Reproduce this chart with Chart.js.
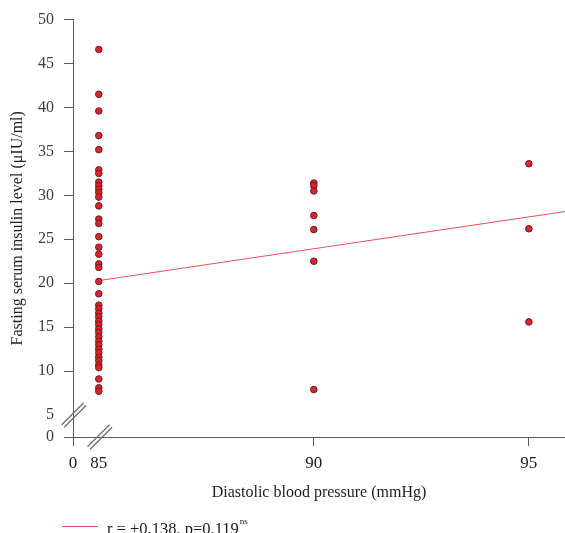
<!DOCTYPE html>
<html>
<head>
<meta charset="utf-8">
<script src="https://cdn.jsdelivr.net/npm/chart.js"></script>
<style>
  body { margin: 0; background: #fff; }
  #wrap { position: relative; width: 565px; height: 533px; overflow: hidden; }
</style>
</head>
<body>
<div id="wrap"><canvas id="graf" width="565" height="533"></canvas></div>
<script>
// Insulin values, one array per blood pressure group
const dbp85 = [46.6, 41.5, 39.6, 36.8, 35.2, 32.9, 32.5, 31.5, 31.1, 30.7, 30.3, 29.8, 28.8,
  27.3, 26.8, 25.3, 24.1, 23.3, 22.2, 21.8, 20.2, 18.8, 17.5, 17.1, 16.6, 16.2, 15.7, 15.3,
  14.8, 14.4, 13.9, 13.4, 13.0, 12.5, 12.1, 11.6, 11.2, 10.7, 10.4, 9.1, 8.1, 7.7];
const dbp90 = [31.4, 31.1, 30.5, 27.7, 26.1, 22.5, 7.9];
const dbp95 = [33.6, 26.2, 15.6];

// Regression line end points
const lineX = [85, 95.9];
const lineY = [20.3, 28.2];

// Broken axes: where the "0" labels sit
const xZero = 84.4;
const yZero = 2.5;
const xTicks = [xZero, 85, 90, 95];
const xLabels = ['0', '85', '90', '95'];
const yTicks = [yZero, 5, 10, 15, 20, 25, 30, 35, 40, 45, 50];
const yLabels = ['0', '5', '10', '15', '20', '25', '30', '35', '40', '45', '50'];

const punkter = []
  .concat(dbp85.map(v => ({ x: 85, y: v })))
  .concat(dbp90.map(v => ({ x: 90, y: v })))
  .concat(dbp95.map(v => ({ x: 95, y: v })));

const serif = 'Liberation Serif, Times New Roman, serif';

// Draws the // break marks and the legend at the bottom
const brudd = {
  id: 'brudd',
  afterDraw(chart) {
    const c = chart.ctx;
    const xs = chart.scales.x, ys = chart.scales.y;
    function slash(cx, cy) {
      c.save();
      c.strokeStyle = '#6f6f6f';
      c.lineWidth = 1.3;
      [-1.3, 1.3].forEach(o => {
        c.beginPath();
        c.moveTo(cx - 11 + o, cy + 11 + o);
        c.lineTo(cx + 11 + o, cy - 11 + o);
        c.stroke();
      });
      c.restore();
    }
    slash(xs.getPixelForValue(xZero) + 1, ys.getPixelForValue(5));
    slash(xs.getPixelForValue(85) + 1, ys.getPixelForValue(yZero));

    // legend
    c.save();
    c.strokeStyle = '#e8505a';
    c.lineWidth = 1;
    c.beginPath();
    c.moveTo(62, 526.5);
    c.lineTo(98, 526.5);
    c.stroke();
    c.fillStyle = '#1a1a1a';
    c.font = '16.5px ' + serif;
    c.textBaseline = 'alphabetic';
    const txt = 'r = +0.138, p=0.119';
    c.fillText(txt, 107, 534);
    const w = c.measureText(txt).width;
    c.font = '9px ' + serif;
    c.fillText('ns', 107 + w + 1, 524);
    c.restore();
  }
};

let graf = new Chart(document.getElementById('graf').getContext('2d'), {
  type: 'scatter',
  data: {
    datasets: [{
      data: punkter,
      backgroundColor: '#e3202b',
      borderColor: '#5a2326',
      borderWidth: 1,
      pointRadius: 3.3,
      order: 1
    }, {
      type: 'line',
      data: lineX.map((x, i) => ({ x: x, y: lineY[i] })),
      borderColor: '#e8505a',
      borderWidth: 1,
      pointRadius: 0,
      fill: false,
      order: 2
    }]
  },
  options: {
    responsive: false,
    animation: false,
    devicePixelRatio: 1,
    layout: { autoPadding: false, padding: { top: 19, left: 0, right: 0, bottom: 0 } },
    plugins: { legend: { display: false }, tooltip: { enabled: false } },
    scales: {
      x: {
        type: 'linear',
        min: xZero,
        max: 95.84,
        afterFit: s => { s.height = 96; },
        afterBuildTicks: s => { s.ticks = xTicks.map(v => ({ value: v })); },
        ticks: {
          autoSkip: false,
          maxRotation: 0,
          padding: 7,
          color: '#1e1e1e',
          font: { family: serif, size: 17 },
          callback: v => xLabels[xTicks.indexOf(v)]
        },
        grid: {
          drawOnChartArea: false,
          tickLength: 9,
          color: ctx => (ctx.tick && ctx.tick.value === 85) ? 'rgba(0,0,0,0)' : '#555a66'
        },
        border: { color: '#555a66', width: 1 },
        title: {
          display: true,
          text: 'Diastolic blood pressure (mmHg)',
          color: '#1e1e1e',
          font: { family: serif, size: 16 },
          padding: { top: 0, bottom: 31 }
        }
      },
      y: {
        type: 'linear',
        min: yZero,
        max: 50,
        afterFit: s => { s.width = 73; },
        afterBuildTicks: s => { s.ticks = yTicks.map(v => ({ value: v })); },
        ticks: {
          autoSkip: false,
          padding: 10,
          color: '#3c3c3c',
          font: { family: serif, size: 16 },
          callback: v => yLabels[yTicks.indexOf(v)]
        },
        grid: {
          drawOnChartArea: false,
          tickLength: 9,
          color: ctx => (ctx.tick && ctx.tick.value === 5) ? 'rgba(0,0,0,0)' : '#555a66'
        },
        border: { color: '#555a66', width: 1 },
        title: {
          display: true,
          text: 'Fasting serum insulin level (\u03bcIU/ml)',
          color: '#1e1e1e',
          font: { family: serif, size: 16 },
          padding: { top: 8, bottom: 0 }
        }
      }
    }
  },
  plugins: [brudd]
});
</script>
</body>
</html>
